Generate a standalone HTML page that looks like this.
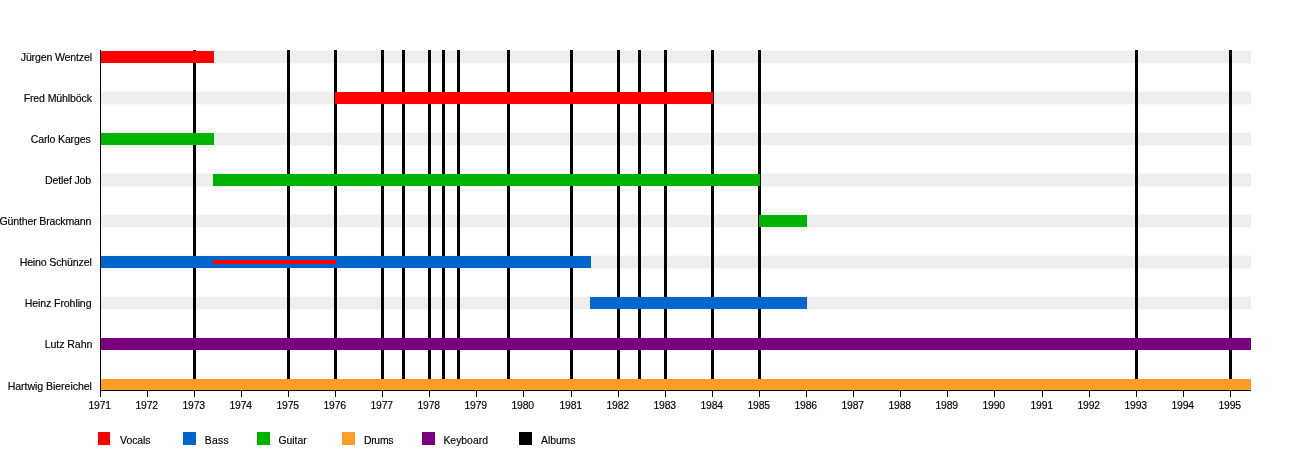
<!DOCTYPE html>
<html><head><meta charset="utf-8"><title>Timeline</title>
<style>
html,body{margin:0;padding:0;background:#fff;}
body{width:1300px;height:450px;position:relative;overflow:hidden;font-family:"Liberation Sans",Arial,sans-serif;color:#000;-webkit-text-stroke:0.15px #000;}
.b{position:absolute;height:12px;}
.g{position:absolute;left:101px;width:1150px;height:12px;background:#eee;border-top:1px solid #f9f9f9;border-bottom:1px solid #f9f9f9;margin-top:-1px;}
.l{position:absolute;top:50px;height:341px;width:3px;background:#000;}
.t{position:absolute;top:390px;width:1px;height:7px;background:#000;}
.y{position:absolute;top:399px;width:40px;text-align:center;font-size:10.4px;line-height:13px;white-space:nowrap;letter-spacing:-0.2px;}
.n{position:absolute;font-size:10.6px;line-height:13px;white-space:nowrap;}
.s{position:absolute;top:432px;width:13px;height:13px;}
.k{position:absolute;top:434.2px;font-size:10.4px;line-height:13px;white-space:nowrap;}
</style></head><body>

<div class="g" style="top:51px"></div>
<div class="g" style="top:92px"></div>
<div class="g" style="top:133px"></div>
<div class="g" style="top:174px"></div>
<div class="g" style="top:215px"></div>
<div class="g" style="top:256px"></div>
<div class="g" style="top:297px"></div>
<div class="l" style="left:193px"></div>
<div class="l" style="left:287px"></div>
<div class="l" style="left:334px"></div>
<div class="l" style="left:381px"></div>
<div class="l" style="left:402px"></div>
<div class="l" style="left:428px"></div>
<div class="l" style="left:442px"></div>
<div class="l" style="left:457px"></div>
<div class="l" style="left:507px"></div>
<div class="l" style="left:570px"></div>
<div class="l" style="left:617px"></div>
<div class="l" style="left:638px"></div>
<div class="l" style="left:664px"></div>
<div class="l" style="left:711px"></div>
<div class="l" style="left:758px"></div>
<div class="l" style="left:1135px"></div>
<div class="l" style="left:1229px"></div>
<div class="b" style="top:51px;left:101px;width:113px;background:#ff0000"></div>
<div class="b" style="top:92px;left:335px;width:378px;background:#ff0000"></div>
<div class="b" style="top:133px;left:101px;width:113px;background:#00b200"></div>
<div class="b" style="top:174px;left:213px;width:547px;background:#00b200"></div>
<div class="b" style="top:215px;left:759px;width:48px;background:#00b200"></div>
<div class="b" style="top:256px;left:101px;width:490px;background:#0066cc"></div>
<div class="b" style="top:297px;left:590px;width:217px;background:#0066cc"></div>
<div class="b" style="top:338px;left:101px;width:1150px;background:#78007e"></div>
<div class="b" style="top:379px;left:101px;width:1150px;background:#ff9e26"></div>
<div class="b" style="top:260px;left:213px;width:123px;height:4px;background:#ff0000"></div>
<div style="position:absolute;left:100px;top:50px;width:1px;height:341px;background:#000"></div>
<div style="position:absolute;left:100px;top:390px;width:1151px;height:1px;background:#000"></div>
<div class="t" style="left:100px"></div>
<div class="y" style="left:79.65px">1971</div>
<div class="t" style="left:147px"></div>
<div class="y" style="left:126.65px">1972</div>
<div class="t" style="left:194px"></div>
<div class="y" style="left:173.65px">1973</div>
<div class="t" style="left:241px"></div>
<div class="y" style="left:220.65px">1974</div>
<div class="t" style="left:288px"></div>
<div class="y" style="left:267.65px">1975</div>
<div class="t" style="left:335px"></div>
<div class="y" style="left:314.65px">1976</div>
<div class="t" style="left:382px"></div>
<div class="y" style="left:361.65px">1977</div>
<div class="t" style="left:429px"></div>
<div class="y" style="left:408.65px">1978</div>
<div class="t" style="left:476px"></div>
<div class="y" style="left:455.65px">1979</div>
<div class="t" style="left:523px"></div>
<div class="y" style="left:502.65px">1980</div>
<div class="t" style="left:571px"></div>
<div class="y" style="left:550.65px">1981</div>
<div class="t" style="left:618px"></div>
<div class="y" style="left:597.65px">1982</div>
<div class="t" style="left:665px"></div>
<div class="y" style="left:644.65px">1983</div>
<div class="t" style="left:712px"></div>
<div class="y" style="left:691.65px">1984</div>
<div class="t" style="left:759px"></div>
<div class="y" style="left:738.65px">1985</div>
<div class="t" style="left:806px"></div>
<div class="y" style="left:785.65px">1986</div>
<div class="t" style="left:853px"></div>
<div class="y" style="left:832.65px">1987</div>
<div class="t" style="left:900px"></div>
<div class="y" style="left:879.65px">1988</div>
<div class="t" style="left:947px"></div>
<div class="y" style="left:926.65px">1989</div>
<div class="t" style="left:994px"></div>
<div class="y" style="left:973.65px">1990</div>
<div class="t" style="left:1042px"></div>
<div class="y" style="left:1021.65px">1991</div>
<div class="t" style="left:1089px"></div>
<div class="y" style="left:1068.65px">1992</div>
<div class="t" style="left:1136px"></div>
<div class="y" style="left:1115.65px">1993</div>
<div class="t" style="left:1183px"></div>
<div class="y" style="left:1162.65px">1994</div>
<div class="t" style="left:1230px"></div>
<div class="y" style="left:1209.65px">1995</div>
<div class="n" style="top:51px;left:20.75px;letter-spacing:-0.165px">Jürgen Wentzel</div>
<div class="n" style="top:92px;left:23.65px;letter-spacing:-0.142px">Fred Mühlböck</div>
<div class="n" style="top:133px;left:30.85px;letter-spacing:-0.180px">Carlo Karges</div>
<div class="n" style="top:174px;left:44.95px;letter-spacing:-0.158px">Detlef Job</div>
<div class="n" style="top:215px;left:-0.50px;letter-spacing:-0.180px">Günther Brackmann</div>
<div class="n" style="top:256px;left:19.65px;letter-spacing:-0.157px">Heino Schünzel</div>
<div class="n" style="top:297px;left:24.65px;letter-spacing:-0.107px">Heinz Frohling</div>
<div class="n" style="top:338px;left:44.65px;letter-spacing:-0.068px">Lutz Rahn</div>
<div class="n" style="top:380px;left:7.65px;letter-spacing:-0.062px">Hartwig Biereichel</div>
<div class="s" style="left:98px;width:12px;background:#ff0000"></div>
<div class="k" style="left:120.10px;letter-spacing:-0.040px">Vocals</div>
<div class="s" style="left:183px;width:13px;background:#0066cc"></div>
<div class="k" style="left:204.65px;letter-spacing:0.350px">Bass</div>
<div class="s" style="left:257px;width:13px;background:#00b200"></div>
<div class="k" style="left:278.50px;letter-spacing:-0.030px">Guitar</div>
<div class="s" style="left:342px;width:13px;background:#ff9e26"></div>
<div class="k" style="left:363.90px;letter-spacing:-0.250px">Drums</div>
<div class="s" style="left:422px;width:13px;background:#78007e"></div>
<div class="k" style="left:443.45px;letter-spacing:0.000px">Keyboard</div>
<div class="s" style="left:519px;width:13px;background:#000"></div>
<div class="k" style="left:541.05px;letter-spacing:-0.060px">Albums</div>
</body></html>
